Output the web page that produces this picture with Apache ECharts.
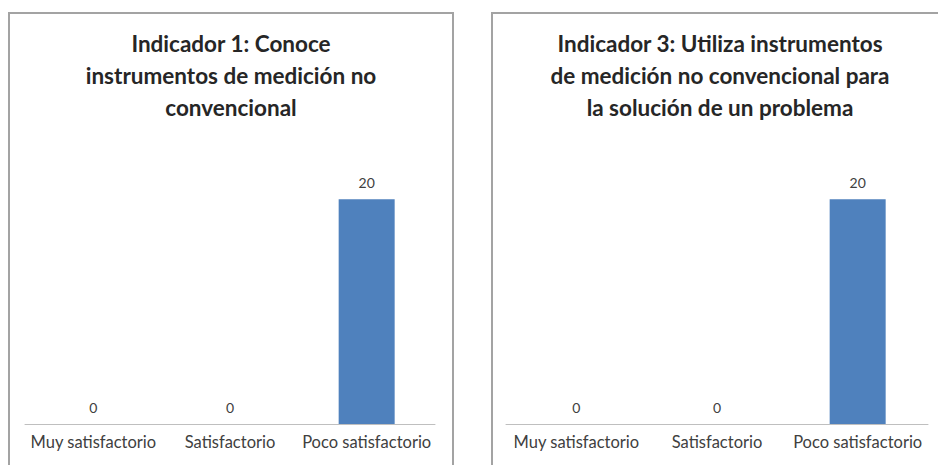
<!DOCTYPE html>
<html>
<head>
<meta charset="utf-8">
<script src="https://cdn.jsdelivr.net/npm/echarts@6/dist/echarts.min.js"></script>
<style>
  html, body { margin: 0; padding: 0; background: #fff; overflow: hidden; width: 938px; height: 465px; }
  .panel { position: absolute; border: 2px solid #a3a3a3; background: #fff; }
  #chart1 { left: 8px; top: 12px; width: 442px; height: 470px; }
  #chart2 { left: 491px; top: 12px; width: 454px; height: 470px; }
</style>
</head>
<body>
<div id="chart1" class="panel"></div>
<div id="chart2" class="panel"></div>
<script>
// categories shared by both charts
const categories = ['Muy satisfactorio', 'Satisfactorio', 'Poco satisfactorio'];

// counts per indicator
const indicador1 = [0, 0, 20];
const indicador3 = [0, 0, 20];

const title1 = 'Indicador 1: Conoce\ninstrumentos de medición no\nconvencional';
const title3 = 'Indicador 3: Utiliza instrumentos\nde medición no convencional para\nla solución de un problema';

const yMax = 25;

// builds the option for one panel
function buildOption(title, values, gridLeft, gridWidth) {
  return {
    animation: false,
    textStyle: { fontFamily: 'Lato' },
    title: {
      text: title,
      left: 'center',
      top: 13,
      padding: 0,
      textStyle: {
        fontFamily: 'Lato',
        fontSize: 22.5,
        fontWeight: 'bold',
        color: '#262626',
        lineHeight: 32
      }
    },
    grid: { left: gridLeft, width: gridWidth, top: 129, height: 281, containLabel: false },
    xAxis: {
      type: 'category',
      data: categories,
      axisLine: { lineStyle: { color: '#bfbfbf', width: 1 } },
      axisTick: { show: false },
      axisLabel: { interval: 0, margin: 9, fontSize: 16.5, color: '#404040', fontFamily: 'Lato' }
    },
    yAxis: {
      type: 'value',
      min: 0,
      max: yMax,
      show: false,
      splitLine: { show: false }
    },
    series: [{
      type: 'bar',
      data: values,
      barWidth: 56,
      itemStyle: { color: '#4f81bd' },
      label: {
        show: true,
        position: 'top',
        distance: 10,
        fontSize: 14,
        color: '#404040',
        fontFamily: 'Lato'
      }
    }]
  };
}

const chart1 = echarts.init(document.getElementById('chart1'), null, { renderer: 'svg' });
chart1.setOption(buildOption(title1, indicador1, 15, 410));

const chart2 = echarts.init(document.getElementById('chart2'), null, { renderer: 'svg' });
chart2.setOption(buildOption(title3, indicador3, 13, 422));
</script>
</body>
</html>
